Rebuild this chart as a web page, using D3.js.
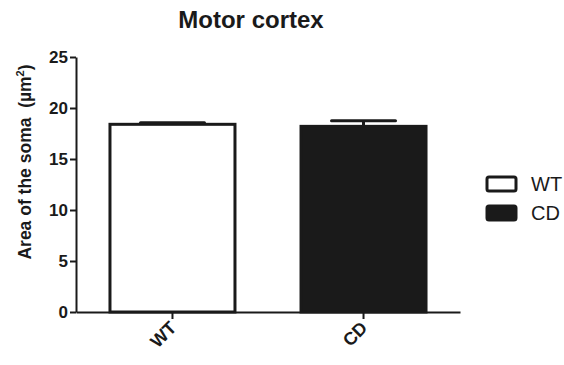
<!DOCTYPE html>
<html>
<head>
<meta charset="utf-8">
<script src="https://cdn.jsdelivr.net/npm/d3@7"></script>
<style>
  body { margin: 0; background: #fff; }
  text { font-family: "Liberation Sans", Arial, sans-serif; fill: #1a1a1a; }
</style>
</head>
<body>
<div id="chart"></div>
<script>
// Data
const groups = ["WT", "CD"];
const means = [18.4, 18.2];
const sems = [0.15, 0.55];
const fills = ["#ffffff", "#1a1a1a"];
const yTicks = [0, 5, 10, 15, 20, 25];

const W = 564, H = 365;
const ink = "#1a1a1a";

const svg = d3.select("#chart")
    .append("svg")
    .attr("width", W)
    .attr("height", H);

// Scales
const y = d3.scaleLinear().domain([0, 25]).range([312, 57]);
const x = d3.scaleBand().domain(groups).range([76, 460]).paddingInner(0.33).paddingOuter(0.17);

// Bars
svg.selectAll("rect.bar")
    .data(groups)
    .enter().append("rect")
    .attr("class", "bar")
    .attr("x", d => x(d) + 1.5)
    .attr("y", (d, i) => y(means[i]))
    .attr("width", x.bandwidth() - 3)
    .attr("height", (d, i) => y(0) - y(means[i]))
    .attr("fill", (d, i) => fills[i])
    .attr("stroke", ink)
    .attr("stroke-width", 3);

// Error bars (upper only)
groups.forEach((g, i) => {
    const cx = x(g) + x.bandwidth() / 2;
    const top = y(means[i] + sems[i]);
    const half = x.bandwidth() / 4;
    svg.append("line")
        .attr("x1", cx).attr("x2", cx)
        .attr("y1", y(means[i])).attr("y2", top)
        .attr("stroke", ink).attr("stroke-width", 3);
    svg.append("line")
        .attr("x1", cx - half).attr("x2", cx + half)
        .attr("y1", top).attr("y2", top)
        .attr("stroke", ink).attr("stroke-width", 3)
        .attr("stroke-linecap", "round");
});

// Y axis
const yAxis = svg.append("g")
    .attr("transform", "translate(76,0)")
    .call(d3.axisLeft(y).tickValues(yTicks).tickSize(6).tickPadding(2).tickSizeOuter(0));
yAxis.select(".domain").attr("stroke", ink).attr("stroke-width", 2);
yAxis.selectAll(".tick line").attr("stroke", ink).attr("stroke-width", 2);
yAxis.selectAll(".tick text")
    .attr("font-size", 17).attr("font-weight", "bold")
    .attr("font-family", "Liberation Sans, Arial, sans-serif")
    .attr("fill", ink);

// X axis
const xAxis = svg.append("g")
    .attr("transform", "translate(0,312)")
    .call(d3.axisBottom(x).tickSize(7).tickSizeOuter(0).tickFormat(""));
xAxis.select(".domain").attr("stroke", ink).attr("stroke-width", 2);
xAxis.selectAll(".tick line").attr("stroke", ink).attr("stroke-width", 2);

// X labels rotated
svg.selectAll("text.xlab")
    .data(groups)
    .enter().append("text")
    .attr("class", "xlab")
    .attr("transform", d => `translate(${x(d) + x.bandwidth() / 2 + 5},${329}) rotate(-45)`)
    .attr("text-anchor", "end")
    .attr("font-size", 18)
    .attr("font-weight", "bold")
    .text(d => d);

// Title
svg.append("text")
    .attr("x", 251)
    .attr("y", 28)
    .attr("text-anchor", "middle")
    .attr("font-size", 24)
    .attr("font-weight", "bold")
    .text("Motor cortex");

// Y label
const ylab = svg.append("text")
    .attr("transform", "translate(31,162) rotate(-90)")
    .attr("text-anchor", "middle")
    .attr("font-size", 17.5)
    .attr("font-weight", "bold");
ylab.append("tspan").text("Area of the soma\u00a0 (µm");
ylab.append("tspan").attr("font-size", 11).attr("dy", -7).text("2");
ylab.append("tspan").attr("dy", 7).text(")");

// Legend
const legend = svg.append("g");
groups.forEach((g, i) => {
    const ly = 177 + i * 29;
    legend.append("rect")
        .attr("x", 487).attr("y", ly)
        .attr("width", 29).attr("height", 14)
        .attr("fill", fills[i])
        .attr("stroke", ink).attr("stroke-width", 3)
        .attr("rx", 2);
    legend.append("text")
        .attr("x", 531).attr("y", ly + 14)
        .attr("font-size", 20)
        .text(g);
});
</script>
</body>
</html>
